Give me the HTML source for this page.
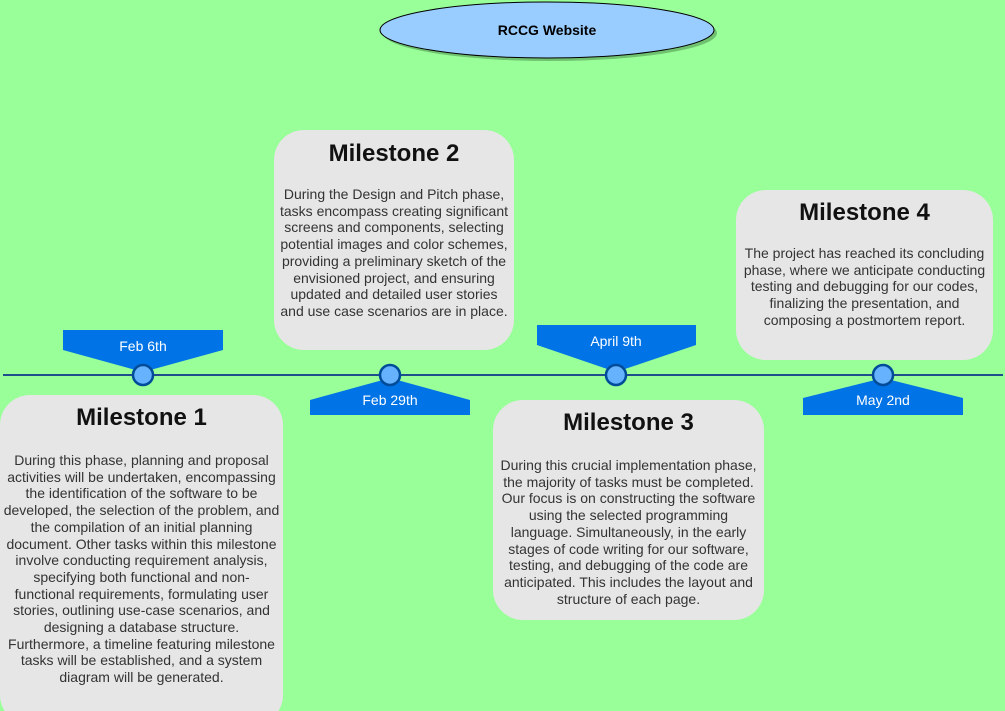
<!DOCTYPE html>
<html><head><meta charset="utf-8"><style>
html,body{margin:0;width:1005px;height:711px;overflow:hidden}
body{background:#99ff99;position:relative;font-family:"Liberation Sans",Arial,sans-serif}
svg{position:absolute;left:0;top:0}
.box{position:absolute;background:#e6e6e6;border-radius:30px;text-align:center;color:#333}
.box h{display:block;position:absolute;left:0;right:0;font-size:24px;font-weight:bold;color:#111;line-height:28px}
.box p{position:absolute;left:-10px;right:-10px;margin:0;font-size:14px;line-height:16.7px;white-space:nowrap}
.lbl{position:absolute;color:#fff;font-size:14px;text-align:center;width:160px}
</style></head><body>
<svg width="1005" height="711">
<ellipse cx="550" cy="33" rx="167" ry="28" fill="#559955" opacity="0.6"/>
<ellipse cx="547" cy="30" rx="167" ry="28" fill="#99ccff" stroke="#000" stroke-width="1"/>
<text x="547" y="35" text-anchor="middle" font-size="14" font-weight="bold" font-family="Liberation Sans,Arial,sans-serif">RCCG Website</text>
<line x1="3" y1="375" x2="1003" y2="375" stroke="#1f4e8c" stroke-width="2"/>
<polygon points="63,330 223,330 223,350 143,372 63,350" fill="#0073e6"/>
<polygon points="310,415 470,415 470,400 390,378 310,400" fill="#0073e6"/>
<polygon points="537,325 696,325 696,345 616,372 537,345" fill="#0073e6"/>
<polygon points="803,415 963,415 963,398 883,378 803,398" fill="#0073e6"/>
<g fill="#66b2ff" stroke="#004c99" stroke-width="2.5">
<circle cx="143" cy="375" r="10"/><circle cx="390" cy="375" r="10"/><circle cx="616" cy="375" r="10"/><circle cx="883" cy="375" r="10"/></g>
</svg>
<div class="lbl" style="left:63px;top:338px">Feb 6th</div>
<div class="lbl" style="left:310px;top:392px">Feb 29th</div>
<div class="lbl" style="left:536px;top:333px">April 9th</div>
<div class="lbl" style="left:803px;top:392px">May 2nd</div>

<div class="box" style="left:0;top:395px;width:283px;height:330px">
<h style="top:9px">Milestone 1</h>
<p style="top:57px">During this phase, planning and proposal<br>activities will be undertaken, encompassing<br>the identification of the software to be<br>developed, the selection of the problem, and<br>the compilation of an initial planning<br>document. Other tasks within this milestone<br>involve conducting requirement analysis,<br>specifying both functional and non-<br>functional requirements, formulating user<br>stories, outlining use-case scenarios, and<br>designing a database structure.<br>Furthermore, a timeline featuring milestone<br>tasks will be established, and a system<br>diagram will be generated.</p></div>

<div class="box" style="left:274px;top:130px;width:240px;height:220px">
<h style="top:10px">Milestone 2</h>
<p style="top:56px">During the Design and Pitch phase,<br>tasks encompass creating significant<br>screens and components, selecting<br>potential images and color schemes,<br>providing a preliminary sketch of the<br>envisioned project, and ensuring<br>updated and detailed user stories<br>and use case scenarios are in place.</p></div>

<div class="box" style="left:493px;top:400px;width:271px;height:220px">
<h style="top:9px">Milestone 3</h>
<p style="top:57px">During this crucial implementation phase,<br>the majority of tasks must be completed.<br>Our focus is on constructing the software<br>using the selected programming<br>language. Simultaneously, in the early<br>stages of code writing for our software,<br>testing, and debugging of the code are<br>anticipated. This includes the layout and<br>structure of each page.</p></div>

<div class="box" style="left:736px;top:190px;width:257px;height:170px">
<h style="top:9px">Milestone 4</h>
<p style="top:55px">The project has reached its concluding<br>phase, where we anticipate conducting<br>testing and debugging for our codes,<br>finalizing the presentation, and<br>composing a postmortem report.</p></div>
</body></html>
